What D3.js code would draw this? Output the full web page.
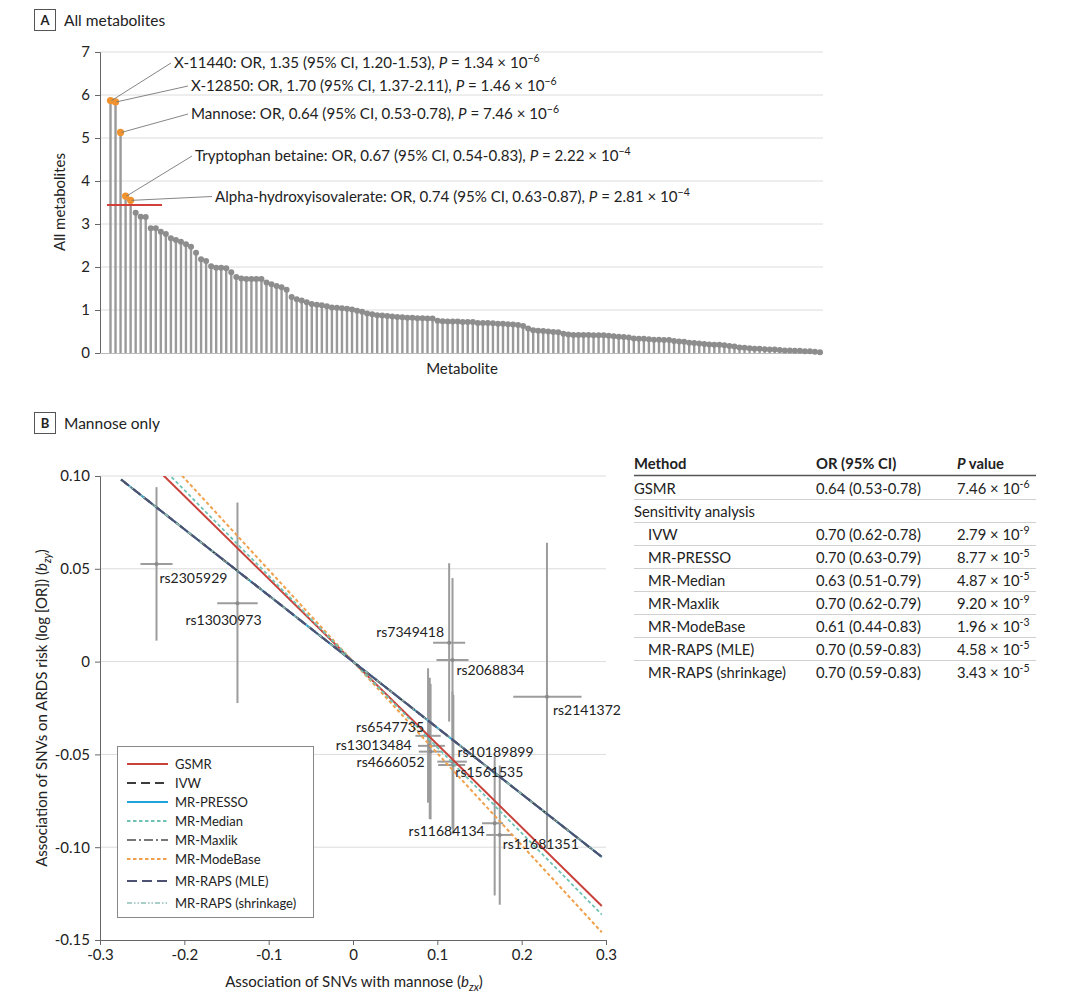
<!DOCTYPE html>
<html><head><meta charset="utf-8">
<script src="https://cdn.jsdelivr.net/npm/d3@7"></script>
<style>
body{margin:0;background:#fff}
svg text{font-family:Lato,"Open Sans",sans-serif;fill:#222}
</style>
</head><body><svg id="c" width="1080" height="1005"></svg>
<script>
// ---------- Panel A data ----------
const metaboliteValues = [
  5.87, 5.84, 5.13, 3.65, 3.55,
  3.26, 3.17, 3.16, 2.90, 2.90, 2.82, 2.77, 2.67, 2.63, 2.59, 2.53, 2.47, 2.33, 2.18, 2.14,
  2.02, 1.98, 1.98, 1.97, 1.88, 1.77, 1.73, 1.72, 1.72, 1.72, 1.72, 1.64, 1.60, 1.56, 1.53, 1.47,
  1.30, 1.25, 1.22, 1.18, 1.14, 1.12, 1.11, 1.09, 1.06, 1.05, 1.04, 1.03, 1.01, 0.98, 0.96,
  0.92, 0.90, 0.88, 0.87, 0.86, 0.85, 0.84, 0.83, 0.82, 0.82, 0.81, 0.81, 0.80, 0.80, 0.75, 0.74, 0.73, 0.73, 0.73,
  0.72, 0.72, 0.72,
  0.70, 0.70, 0.70, 0.69, 0.68, 0.68, 0.67, 0.66, 0.65, 0.63,
  0.57, 0.53,
  0.52, 0.51, 0.50, 0.49, 0.48,
  0.45, 0.43, 0.42, 0.42, 0.42, 0.42, 0.41, 0.41, 0.41, 0.40,
  0.39, 0.38, 0.37, 0.36, 0.34,
  0.33, 0.33, 0.32, 0.31, 0.31, 0.30, 0.30,
  0.28, 0.27, 0.26, 0.24, 0.23,
  0.22, 0.21, 0.20, 0.19, 0.19, 0.18, 0.16, 0.15,
  0.13, 0.12, 0.11, 0.10, 0.10, 0.09, 0.08, 0.08, 0.07,
  0.06, 0.06, 0.05, 0.05, 0.04, 0.04, 0.03, 0.02
];
const highlightNames = ["X-11440", "X-12850", "Mannose", "Tryptophan betaine", "Alpha-hydroxyisovalerate"];
const highlightOR = ["1.35", "1.70", "0.64", "0.67", "0.74"];
const highlightCI = ["1.20-1.53", "1.37-2.11", "0.53-0.78", "0.54-0.83", "0.63-0.87"];
const highlightPMant = ["1.34", "1.46", "7.46", "2.22", "2.81"];
const highlightPExp = ["\u22126", "\u22126", "\u22126", "\u22124", "\u22124"];
const thresholdValue = 3.44;
const yTicksA = [0, 1, 2, 3, 4, 5, 6, 7];

// ---------- Panel B data ----------
const snpNames = ["rs2305929", "rs13030973", "rs7349418", "rs2068834", "rs2141372", "rs6547735",
  "rs13013484", "rs4666052", "rs10189899", "rs1561535", "rs11684134", "rs11681351"];
const snpBzx   = [-0.233, -0.137, 0.114, 0.118, 0.230, 0.089, 0.091, 0.092, 0.118, 0.119, 0.168, 0.174];
const snpBzxLo = [-0.252, -0.161, 0.095, 0.099, 0.190, 0.074, 0.077, 0.078, 0.100, 0.101, 0.153, 0.158];
const snpBzxHi = [-0.214, -0.113, 0.133, 0.137, 0.271, 0.104, 0.109, 0.105, 0.135, 0.133, 0.178, 0.190];
const snpBzy   = [0.0526, 0.0315, 0.0102, 0.0009, -0.0189, -0.0400, -0.0454, -0.0485, -0.0539, -0.0557, -0.0871, -0.0934];
const snpBzyLo = [0.0113, -0.0223, -0.0323, -0.0430, -0.1010, -0.0760, -0.0848, -0.0850, -0.0900, -0.0930, -0.1260, -0.1310];
const snpBzyHi = [0.0940, 0.0857, 0.0530, 0.0450, 0.0640, -0.0036, -0.0087, -0.0120, -0.0160, -0.0180, -0.0510, -0.0560];
const snpRange = [-0.275, 0.295];

const methodNames = ["GSMR", "IVW", "MR-PRESSO", "MR-Median", "MR-Maxlik", "MR-ModeBase", "MR-RAPS (MLE)", "MR-RAPS (shrinkage)"];
const methodOR = [0.64, 0.70, 0.70, 0.63, 0.70, 0.61, 0.70, 0.70];
const xTicksB = [-0.3, -0.2, -0.1, 0, 0.1, 0.2, 0.3];
const yTicksB = [0.10, 0.05, 0, -0.05, -0.10, -0.15];

// ---------- Table data ----------
const tableMethods = ["GSMR", "Sensitivity analysis", "IVW", "MR-PRESSO", "MR-Median", "MR-Maxlik", "MR-ModeBase", "MR-RAPS (MLE)", "MR-RAPS (shrinkage)"];
const tableOR = ["0.64 (0.53-0.78)", "", "0.70 (0.62-0.78)", "0.70 (0.63-0.79)", "0.63 (0.51-0.79)", "0.70 (0.62-0.79)", "0.61 (0.44-0.83)", "0.70 (0.59-0.83)", "0.70 (0.59-0.83)"];
const tablePMant = ["7.46", "", "2.79", "8.77", "4.87", "9.20", "1.96", "4.58", "3.43"];
const tablePExp = ["-6", "", "-9", "-5", "-5", "-9", "-3", "-5", "-5"];

// ================= drawing =================
const svg = d3.select("#c");
const gridC = "#dcdcdc", axisC = "#666";

function panelLabel(letter, title, y) {
  svg.append("rect").attr("x", 34.5).attr("y", y - 15.5).attr("width", 21).attr("height", 21)
    .attr("fill", "#fff").attr("stroke", "#555").attr("stroke-width", 1);
  svg.append("text").attr("x", 45).attr("y", y).attr("text-anchor", "middle")
    .attr("font-size", 13).attr("font-weight", 700).text(letter);
  svg.append("text").attr("x", 64).attr("y", y + 0.5).attr("font-size", 15.5).text(title);
}
panelLabel("A", "All metabolites", 25);
panelLabel("B", "Mannose only", 428);

// ---------- Panel A ----------
const xA = d3.scalePoint().domain(d3.range(metaboliteValues.length)).range([110.5, 820]);
const yA = d3.scaleLinear().domain([0, 7]).range([353, 52]);
const gA = svg.append("g");
gA.selectAll("line.grid").data(yTicksA.filter(d => d > 0)).join("line")
  .attr("x1", 100).attr("x2", 823).attr("y1", d => yA(d)).attr("y2", d => yA(d))
  .attr("stroke", gridC).attr("stroke-width", 1);
const axA = gA.append("g").attr("transform", "translate(100,0)")
  .call(d3.axisLeft(yA).tickValues(yTicksA).tickSize(5).tickPadding(5).tickFormat(d3.format("d")));
axA.select(".domain").attr("stroke", axisC);
axA.selectAll(".tick line").attr("stroke", axisC);
axA.selectAll("text").attr("font-size", 15).attr("font-family", "Lato").attr("fill", "#222");
gA.append("line").attr("x1", 100).attr("x2", 823).attr("y1", 353.5).attr("y2", 353.5).attr("stroke", "#bbb");

gA.selectAll("line.stem").data(metaboliteValues).join("line")
  .attr("x1", (d, i) => xA(i)).attr("x2", (d, i) => xA(i))
  .attr("y1", yA(0)).attr("y2", d => yA(d))
  .attr("stroke", "#9a9a9a").attr("stroke-width", 2.4);
gA.append("line").attr("x1", 107).attr("x2", 162).attr("y1", yA(thresholdValue)).attr("y2", yA(thresholdValue))
  .attr("stroke", "#d2403a").attr("stroke-width", 2);
gA.selectAll("circle.pt").data(metaboliteValues).join("circle")
  .attr("cx", (d, i) => xA(i)).attr("cy", d => yA(d))
  .attr("r", (d, i) => i < highlightNames.length ? 3.6 : 3)
  .attr("fill", (d, i) => i < highlightNames.length ? "#f0922e" : "#8d8d8d");

// annotations
const annX = [174, 191, 191, 195, 215];
const annY = [68, 91, 119, 161, 201.5];
highlightNames.forEach((name, i) => {
  const px = xA(i), py = yA(metaboliteValues[i]);
  gA.append("line").attr("x1", px + 1).attr("y1", py).attr("x2", annX[i] - 3).attr("y2", annY[i] - 5)
    .attr("stroke", "#777").attr("stroke-width", 0.9);
  const t = gA.append("text").attr("x", annX[i]).attr("y", annY[i]).attr("font-size", 15.1);
  t.append("tspan").text(`${name}: OR, ${highlightOR[i]} (95% CI, ${highlightCI[i]}), `);
  t.append("tspan").attr("font-style", "italic").text("P");
  t.append("tspan").text(` = ${highlightPMant[i]} \u00d7 10`);
  t.append("tspan").attr("font-size", 10.5).attr("dy", -6).text(highlightPExp[i]);
});

gA.append("text").attr("transform", "translate(65,202) rotate(-90)").attr("text-anchor", "middle")
  .attr("font-size", 15).text("All metabolites");
gA.append("text").attr("x", 462).attr("y", 374).attr("text-anchor", "middle")
  .attr("font-size", 15).text("Metabolite");

// ---------- Panel B ----------
const xB = d3.scaleLinear().domain([-0.3, 0.3]).range([100, 606]);
const yB = d3.scaleLinear().domain([-0.15, 0.10]).range([940, 476]);
const gB = svg.append("g");
gB.selectAll("line.grid").data(yTicksB.filter(d => d > -0.15)).join("line")
  .attr("x1", 100).attr("x2", 606).attr("y1", d => yB(d)).attr("y2", d => yB(d))
  .attr("stroke", gridC).attr("stroke-width", 1);
const fmtY = d => d === 0 ? "0" : d3.format(".2f")(d).replace("\u2212", "-");
const fmtX = d => d === 0 ? "0" : d3.format(".1f")(d).replace("\u2212", "-");
const axBy = gB.append("g").attr("transform", "translate(100,0)")
  .call(d3.axisLeft(yB).tickValues(yTicksB).tickSize(5).tickPadding(5).tickFormat(fmtY));
const axBx = gB.append("g").attr("transform", "translate(0,940)")
  .call(d3.axisBottom(xB).tickValues(xTicksB).tickSize(5).tickPadding(4).tickFormat(fmtX));
[axBy, axBx].forEach(a => {
  a.select(".domain").attr("stroke", axisC);
  a.selectAll(".tick line").attr("stroke", axisC);
  a.selectAll("text").attr("font-size", 15).attr("font-family", "Lato").attr("fill", "#222");
});

// error bars & points
const snpIdx = d3.range(snpNames.length);
gB.selectAll("line.ev").data(snpIdx).join("line")
  .attr("x1", i => xB(snpBzx[i])).attr("x2", i => xB(snpBzx[i]))
  .attr("y1", i => yB(snpBzyLo[i])).attr("y2", i => yB(snpBzyHi[i]))
  .attr("stroke", "#9c9c9c").attr("stroke-width", 2);
gB.selectAll("line.eh").data(snpIdx).join("line")
  .attr("x1", i => xB(snpBzxLo[i])).attr("x2", i => xB(snpBzxHi[i]))
  .attr("y1", i => yB(snpBzy[i])).attr("y2", i => yB(snpBzy[i]))
  .attr("stroke", "#9c9c9c").attr("stroke-width", 2);
gB.selectAll("circle.snp").data(snpIdx).join("circle")
  .attr("cx", i => xB(snpBzx[i])).attr("cy", i => yB(snpBzy[i])).attr("r", 2)
  .attr("fill", "#8a8a8a");

// method lines
svg.append("defs").append("clipPath").attr("id", "clipB").append("rect")
  .attr("x", 100).attr("y", 476).attr("width", 506).attr("height", 464);
const methodStyle = [
  {c: "#c8413b", w: 2, dash: null},
  {c: "#3c3c3c", w: 2, dash: "9,5"},
  {c: "#1fa4dd", w: 2, dash: null},
  {c: "#6fc3b5", w: 1.8, dash: "3.5,2.5"},
  {c: "#777777", w: 1.8, dash: "9,3,2,3"},
  {c: "#f0a04a", w: 2, dash: "3.5,2.5"},
  {c: "#4d5174", w: 2, dash: "10,5"},
  {c: "#8fbeb6", w: 1.5, dash: "5,2,1.5,2,1.5,2"}
];
const lineOrder = [0, 5, 3, 2, 1, 4, 7, 6];
const gL = gB.append("g").attr("clip-path", "url(#clipB)");
lineOrder.forEach(m => {
  const slope = Math.log(methodOR[m]);
  const s = methodStyle[m];
  gL.append("line")
    .attr("x1", xB(snpRange[0])).attr("y1", yB(slope * snpRange[0]))
    .attr("x2", xB(snpRange[1])).attr("y2", yB(slope * snpRange[1]))
    .attr("stroke", s.c).attr("stroke-width", s.w).attr("stroke-dasharray", s.dash);
});

// SNP labels
const labAnchor = ["start", "start", "end", "start", "start", "end", "end", "end", "start", "start", "end", "start"];
const labDx = [3, -52, -5, 4, 6, -4, -18, -6, 5, 2, -10, 3];
const labDy = [19, 22, -6, 15, 18, -4, 4, 15, -5, 12, 13, 14];
gB.selectAll("text.snp").data(snpIdx).join("text")
  .attr("x", i => xB(snpBzx[i]) + labDx[i]).attr("y", i => yB(snpBzy[i]) + labDy[i])
  .attr("text-anchor", i => labAnchor[i]).attr("font-size", 14).text(i => snpNames[i]);

// legend
const lg = gB.append("g");
lg.append("rect").attr("x", 117.5).attr("y", 746.5).attr("width", 196).attr("height", 171)
  .attr("fill", "#fff").attr("stroke", "#888").attr("stroke-width", 1);
const legY = [764, 783, 802, 821, 840, 859, 881, 903];
methodNames.forEach((name, m) => {
  const s = methodStyle[m];
  lg.append("line").attr("x1", 127).attr("x2", 168).attr("y1", legY[m]).attr("y2", legY[m])
    .attr("stroke", s.c).attr("stroke-width", s.w).attr("stroke-dasharray", s.dash);
  lg.append("text").attr("x", 175).attr("y", legY[m] + 4.5).attr("font-size", 13).text(name);
});

// axis titles B
const yt = gB.append("text").attr("transform", "translate(47,708) rotate(-90)").attr("text-anchor", "middle")
  .attr("font-size", 15);
yt.append("tspan").text("Association of SNVs on ARDS risk (log [OR]) (");
yt.append("tspan").attr("font-style", "italic").text("b");
yt.append("tspan").attr("font-style", "italic").attr("font-size", 11).attr("dy", 4).text("zy");
yt.append("tspan").attr("dy", -4).text(")");
const xt = gB.append("text").attr("x", 354).attr("y", 987).attr("text-anchor", "middle").attr("font-size", 15);
xt.append("tspan").text("Association of SNVs with mannose (");
xt.append("tspan").attr("font-style", "italic").text("b");
xt.append("tspan").attr("font-style", "italic").attr("font-size", 11).attr("dy", 4).text("zx");
xt.append("tspan").attr("dy", -4).text(")");

// ---------- Table ----------
const gT = svg.append("g");
const colX = [634, 816, 957];
const tFont = 14.8;
gT.append("text").attr("x", colX[0]).attr("y", 469).attr("font-size", tFont).attr("font-weight", 700).text("Method");
gT.append("text").attr("x", colX[1]).attr("y", 469).attr("font-size", tFont).attr("font-weight", 700).text("OR (95% CI)");
const ph = gT.append("text").attr("x", colX[2]).attr("y", 469).attr("font-size", tFont).attr("font-weight", 700);
ph.append("tspan").attr("font-style", "italic").text("P");
ph.append("tspan").text(" value");
gT.append("line").attr("x1", 634).attr("x2", 1036).attr("y1", 475.5).attr("y2", 475.5)
  .attr("stroke", "#555").attr("stroke-width", 1.6);
tableMethods.forEach((name, i) => {
  const by = 493.5 + i * 23;
  const indent = i >= 2 ? 14 : 0;
  gT.append("text").attr("x", colX[0] + indent).attr("y", by).attr("font-size", tFont).text(name);
  if (tableOR[i]) {
    gT.append("text").attr("x", colX[1]).attr("y", by).attr("font-size", tFont).text(tableOR[i]);
    const p = gT.append("text").attr("x", colX[2]).attr("y", by).attr("font-size", tFont);
    p.append("tspan").text(`${tablePMant[i]} \u00d7 10`);
    p.append("tspan").attr("font-size", 10.5).attr("dy", -6).text(tablePExp[i]);
  }
  if (i < tableMethods.length - 1) {
    gT.append("line").attr("x1", 634).attr("x2", 1036).attr("y1", by + 6).attr("y2", by + 6)
      .attr("stroke", "#d0d0d0").attr("stroke-width", 1);
  }
});
</script>
</body></html>
